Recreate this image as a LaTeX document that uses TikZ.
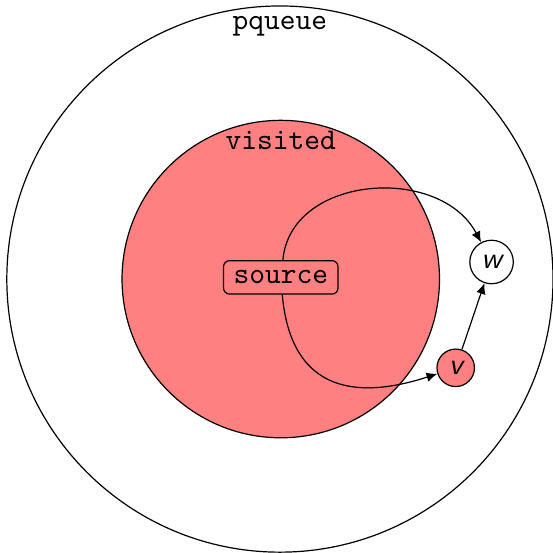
\documentclass[tikz,border=0pt]{standalone}
\usetikzlibrary{positioning}
\usetikzlibrary{arrows.meta}
\tikzset{>={Latex[length=3.6pt,width=3.2pt]}}

\begin{document}
\begin{tikzpicture}[thick,
    set/.style = {draw, circle, thin},
    vert/.style = {draw, circle, thin, minimum size=13pt, inner sep=0pt, font=\sffamily\itshape},
    src/.style = {draw, thin, rounded corners=2pt, fill=red!50, font=\ttfamily}]
\useasboundingbox (-3.28,-3.2) rectangle (3.2,3.27);
    \node[set, minimum size=6.4cm] (pqueue) at (0,0) {};
    \node[below=0pt of pqueue.north, font=\ttfamily] (pqlabel) {pqueue};
    \node[set, fill=red!50, minimum size=3.72cm] (visited) at (0.01,0) {};
    \node[below=0pt of visited.north, font=\ttfamily] (vislabel) {visited};
    \node[src] (source) at (0.01,0.02) {source};
    \node[vert, minimum size=14.5pt] (w) at (2.48,0.2) {w};
    \node[vert, fill=red!50, minimum size=12.5pt] (v) at (2.06,-1.04) {v};
    \draw[thin, ->] ([xshift=0.7pt]source.north) .. controls +(85:1.0) and +(118:1.3) .. (w);
    \draw[thin, ->] ([xshift=0.5pt]source.south) .. controls +(-85:1.3) and +(198:1.0) .. (v);
    \draw[thin, ->] (v) to (w);
\end{tikzpicture}
\end{document}
